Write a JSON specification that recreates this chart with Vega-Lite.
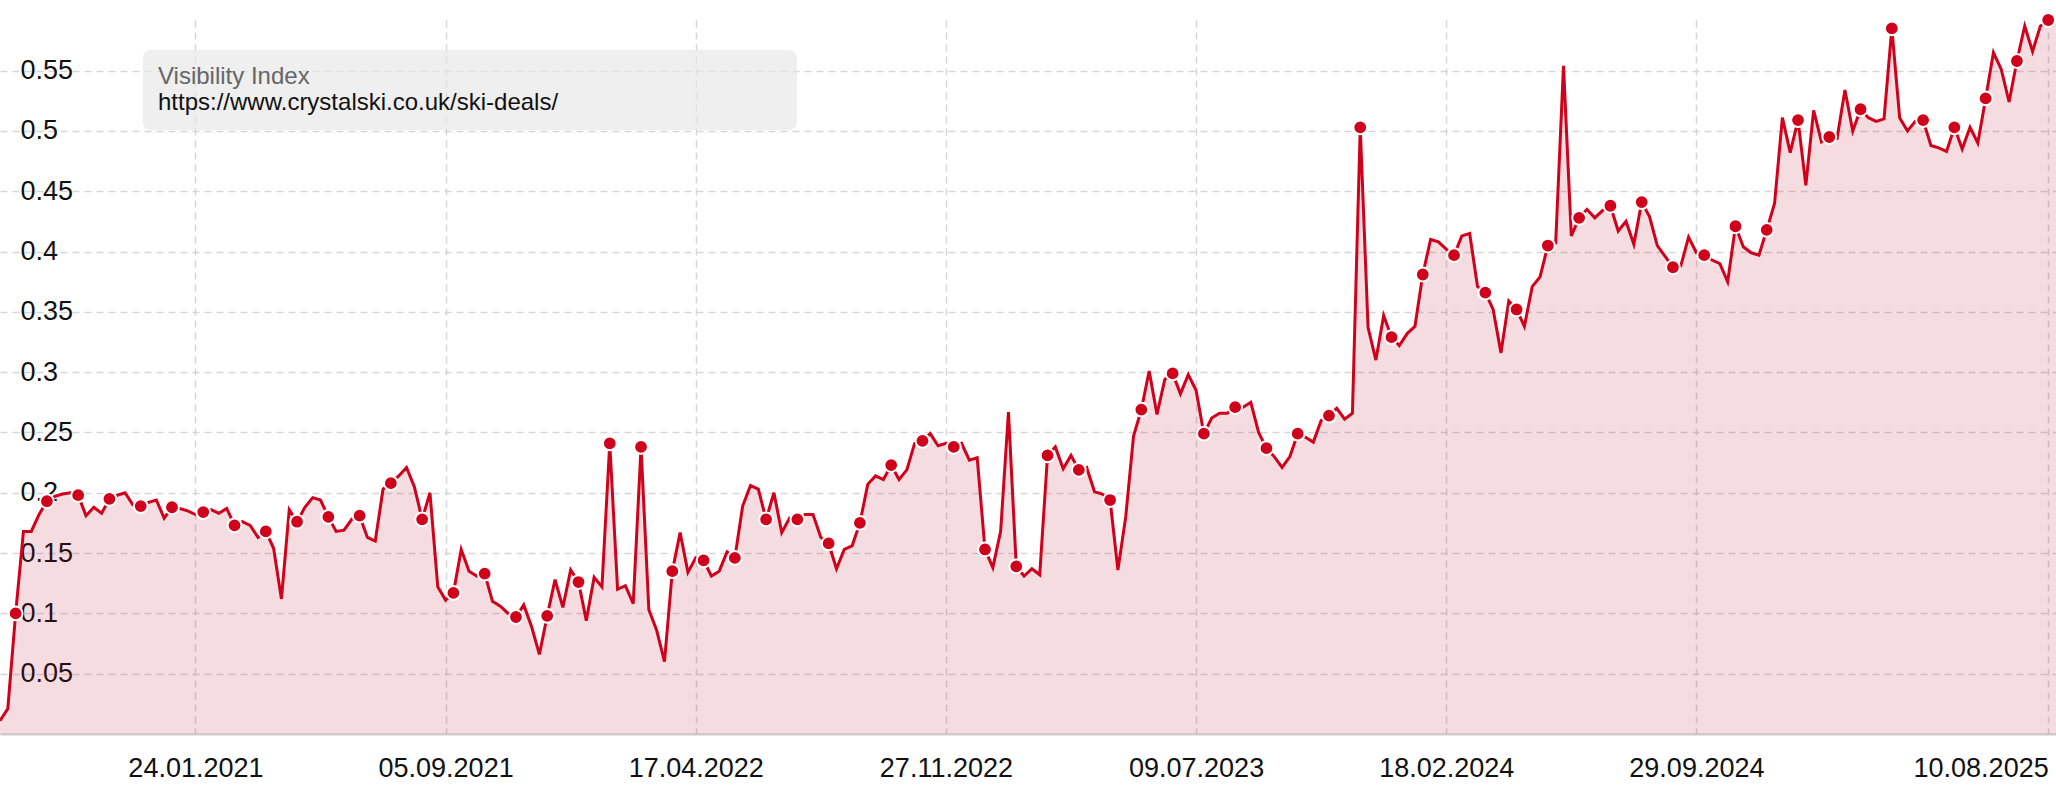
{
  "$schema": "https://vega.github.io/schema/vega-lite/v6.json",
  "width": 2056,
  "height": 714,
  "autosize": {"type": "none"},
  "padding": {"left": 0, "right": 0, "top": 20, "bottom": 66},
  "background": "white",
  "config": {
    "font": "Liberation Sans",
    "view": {"stroke": null},
    "legend": {
      "orient": "none",
      "legendX": 143,
      "legendY": 30,
      "fillColor": "rgba(230,230,230,0.65)",
      "cornerRadius": 8,
      "padding": 15,
      "titleFontSize": 24,
      "titleFontWeight": "normal",
      "titleColor": "#666666",
      "titleFont": "Liberation Sans",
      "titlePadding": 2,
      "labelFontSize": 24,
      "labelColor": "#111111",
      "labelFont": "Liberation Sans",
      "labelLimit": 0,
      "labelOffset": -636,
      "symbolOffset": 612,
      "symbolSize": 0,
      "symbolOpacity": 0,
      "symbolStrokeWidth": 0
    }
  },
  "data": {
    "values": [
      {"date":"2020-08-02","value":0.011,"dot":0},
      {"date":"2020-08-09","value":0.021,"dot":0},
      {"date":"2020-08-16","value":0.100,"dot":1},
      {"date":"2020-08-23","value":0.168,"dot":0},
      {"date":"2020-08-30","value":0.168,"dot":0},
      {"date":"2020-09-06","value":0.182,"dot":0},
      {"date":"2020-09-13","value":0.193,"dot":1},
      {"date":"2020-09-20","value":0.197,"dot":0},
      {"date":"2020-09-27","value":0.199,"dot":0},
      {"date":"2020-10-04","value":0.200,"dot":0},
      {"date":"2020-10-11","value":0.198,"dot":1},
      {"date":"2020-10-18","value":0.181,"dot":0},
      {"date":"2020-10-25","value":0.188,"dot":0},
      {"date":"2020-11-01","value":0.183,"dot":0},
      {"date":"2020-11-08","value":0.195,"dot":1},
      {"date":"2020-11-15","value":0.198,"dot":0},
      {"date":"2020-11-22","value":0.200,"dot":0},
      {"date":"2020-11-29","value":0.190,"dot":0},
      {"date":"2020-12-06","value":0.189,"dot":1},
      {"date":"2020-12-13","value":0.192,"dot":0},
      {"date":"2020-12-20","value":0.194,"dot":0},
      {"date":"2020-12-27","value":0.179,"dot":0},
      {"date":"2021-01-03","value":0.188,"dot":1},
      {"date":"2021-01-10","value":0.187,"dot":0},
      {"date":"2021-01-17","value":0.185,"dot":0},
      {"date":"2021-01-24","value":0.182,"dot":0},
      {"date":"2021-01-31","value":0.184,"dot":1},
      {"date":"2021-02-07","value":0.186,"dot":0},
      {"date":"2021-02-14","value":0.183,"dot":0},
      {"date":"2021-02-21","value":0.187,"dot":0},
      {"date":"2021-02-28","value":0.173,"dot":1},
      {"date":"2021-03-07","value":0.176,"dot":0},
      {"date":"2021-03-14","value":0.173,"dot":0},
      {"date":"2021-03-21","value":0.163,"dot":0},
      {"date":"2021-03-28","value":0.168,"dot":1},
      {"date":"2021-04-04","value":0.154,"dot":0},
      {"date":"2021-04-11","value":0.112,"dot":0},
      {"date":"2021-04-18","value":0.186,"dot":0},
      {"date":"2021-04-25","value":0.176,"dot":1},
      {"date":"2021-05-02","value":0.188,"dot":0},
      {"date":"2021-05-09","value":0.196,"dot":0},
      {"date":"2021-05-16","value":0.194,"dot":0},
      {"date":"2021-05-23","value":0.180,"dot":1},
      {"date":"2021-05-30","value":0.168,"dot":0},
      {"date":"2021-06-06","value":0.169,"dot":0},
      {"date":"2021-06-13","value":0.178,"dot":0},
      {"date":"2021-06-20","value":0.181,"dot":1},
      {"date":"2021-06-27","value":0.163,"dot":0},
      {"date":"2021-07-04","value":0.160,"dot":0},
      {"date":"2021-07-11","value":0.203,"dot":0},
      {"date":"2021-07-18","value":0.208,"dot":1},
      {"date":"2021-07-25","value":0.214,"dot":0},
      {"date":"2021-08-01","value":0.221,"dot":0},
      {"date":"2021-08-08","value":0.205,"dot":0},
      {"date":"2021-08-15","value":0.178,"dot":1},
      {"date":"2021-08-22","value":0.200,"dot":0},
      {"date":"2021-08-29","value":0.122,"dot":0},
      {"date":"2021-09-05","value":0.111,"dot":0},
      {"date":"2021-09-12","value":0.117,"dot":1},
      {"date":"2021-09-19","value":0.153,"dot":0},
      {"date":"2021-09-26","value":0.135,"dot":0},
      {"date":"2021-10-03","value":0.131,"dot":0},
      {"date":"2021-10-10","value":0.133,"dot":1},
      {"date":"2021-10-17","value":0.110,"dot":0},
      {"date":"2021-10-24","value":0.106,"dot":0},
      {"date":"2021-10-31","value":0.100,"dot":0},
      {"date":"2021-11-07","value":0.097,"dot":1},
      {"date":"2021-11-14","value":0.107,"dot":0},
      {"date":"2021-11-21","value":0.089,"dot":0},
      {"date":"2021-11-28","value":0.066,"dot":0},
      {"date":"2021-12-05","value":0.098,"dot":1},
      {"date":"2021-12-12","value":0.128,"dot":0},
      {"date":"2021-12-19","value":0.105,"dot":0},
      {"date":"2021-12-26","value":0.136,"dot":0},
      {"date":"2022-01-02","value":0.126,"dot":1},
      {"date":"2022-01-09","value":0.094,"dot":0},
      {"date":"2022-01-16","value":0.130,"dot":0},
      {"date":"2022-01-23","value":0.122,"dot":0},
      {"date":"2022-01-30","value":0.241,"dot":1},
      {"date":"2022-02-06","value":0.120,"dot":0},
      {"date":"2022-02-13","value":0.123,"dot":0},
      {"date":"2022-02-20","value":0.108,"dot":0},
      {"date":"2022-02-27","value":0.238,"dot":1},
      {"date":"2022-03-06","value":0.103,"dot":0},
      {"date":"2022-03-13","value":0.086,"dot":0},
      {"date":"2022-03-20","value":0.060,"dot":0},
      {"date":"2022-03-27","value":0.135,"dot":1},
      {"date":"2022-04-03","value":0.167,"dot":0},
      {"date":"2022-04-10","value":0.134,"dot":0},
      {"date":"2022-04-17","value":0.146,"dot":0},
      {"date":"2022-04-24","value":0.144,"dot":1},
      {"date":"2022-05-01","value":0.131,"dot":0},
      {"date":"2022-05-08","value":0.135,"dot":0},
      {"date":"2022-05-15","value":0.151,"dot":0},
      {"date":"2022-05-22","value":0.146,"dot":1},
      {"date":"2022-05-29","value":0.189,"dot":0},
      {"date":"2022-06-05","value":0.206,"dot":0},
      {"date":"2022-06-12","value":0.203,"dot":0},
      {"date":"2022-06-19","value":0.178,"dot":1},
      {"date":"2022-06-26","value":0.200,"dot":0},
      {"date":"2022-07-03","value":0.167,"dot":0},
      {"date":"2022-07-10","value":0.179,"dot":0},
      {"date":"2022-07-17","value":0.178,"dot":1},
      {"date":"2022-07-24","value":0.182,"dot":0},
      {"date":"2022-07-31","value":0.182,"dot":0},
      {"date":"2022-08-07","value":0.163,"dot":0},
      {"date":"2022-08-14","value":0.158,"dot":1},
      {"date":"2022-08-21","value":0.137,"dot":0},
      {"date":"2022-08-28","value":0.153,"dot":0},
      {"date":"2022-09-04","value":0.156,"dot":0},
      {"date":"2022-09-11","value":0.175,"dot":1},
      {"date":"2022-09-18","value":0.207,"dot":0},
      {"date":"2022-09-25","value":0.214,"dot":0},
      {"date":"2022-10-02","value":0.211,"dot":0},
      {"date":"2022-10-09","value":0.223,"dot":1},
      {"date":"2022-10-16","value":0.211,"dot":0},
      {"date":"2022-10-23","value":0.219,"dot":0},
      {"date":"2022-10-30","value":0.241,"dot":0},
      {"date":"2022-11-06","value":0.243,"dot":1},
      {"date":"2022-11-13","value":0.249,"dot":0},
      {"date":"2022-11-20","value":0.239,"dot":0},
      {"date":"2022-11-27","value":0.241,"dot":0},
      {"date":"2022-12-04","value":0.238,"dot":1},
      {"date":"2022-12-11","value":0.241,"dot":0},
      {"date":"2022-12-18","value":0.227,"dot":0},
      {"date":"2022-12-25","value":0.229,"dot":0},
      {"date":"2023-01-01","value":0.153,"dot":1},
      {"date":"2023-01-08","value":0.138,"dot":0},
      {"date":"2023-01-15","value":0.168,"dot":0},
      {"date":"2023-01-22","value":0.267,"dot":0},
      {"date":"2023-01-29","value":0.139,"dot":1},
      {"date":"2023-02-05","value":0.131,"dot":0},
      {"date":"2023-02-12","value":0.137,"dot":0},
      {"date":"2023-02-19","value":0.132,"dot":0},
      {"date":"2023-02-26","value":0.231,"dot":1},
      {"date":"2023-03-05","value":0.238,"dot":0},
      {"date":"2023-03-12","value":0.220,"dot":0},
      {"date":"2023-03-19","value":0.231,"dot":0},
      {"date":"2023-03-26","value":0.219,"dot":1},
      {"date":"2023-04-02","value":0.221,"dot":0},
      {"date":"2023-04-09","value":0.201,"dot":0},
      {"date":"2023-04-16","value":0.199,"dot":0},
      {"date":"2023-04-23","value":0.194,"dot":1},
      {"date":"2023-04-30","value":0.136,"dot":0},
      {"date":"2023-05-07","value":0.180,"dot":0},
      {"date":"2023-05-14","value":0.247,"dot":0},
      {"date":"2023-05-21","value":0.269,"dot":1},
      {"date":"2023-05-28","value":0.301,"dot":0},
      {"date":"2023-06-04","value":0.265,"dot":0},
      {"date":"2023-06-11","value":0.294,"dot":0},
      {"date":"2023-06-18","value":0.299,"dot":1},
      {"date":"2023-06-25","value":0.282,"dot":0},
      {"date":"2023-07-02","value":0.298,"dot":0},
      {"date":"2023-07-09","value":0.285,"dot":0},
      {"date":"2023-07-16","value":0.249,"dot":1},
      {"date":"2023-07-23","value":0.262,"dot":0},
      {"date":"2023-07-30","value":0.266,"dot":0},
      {"date":"2023-08-06","value":0.266,"dot":0},
      {"date":"2023-08-13","value":0.271,"dot":1},
      {"date":"2023-08-20","value":0.271,"dot":0},
      {"date":"2023-08-27","value":0.275,"dot":0},
      {"date":"2023-09-03","value":0.250,"dot":0},
      {"date":"2023-09-10","value":0.237,"dot":1},
      {"date":"2023-09-17","value":0.230,"dot":0},
      {"date":"2023-09-24","value":0.221,"dot":0},
      {"date":"2023-10-01","value":0.230,"dot":0},
      {"date":"2023-10-08","value":0.249,"dot":1},
      {"date":"2023-10-15","value":0.246,"dot":0},
      {"date":"2023-10-22","value":0.242,"dot":0},
      {"date":"2023-10-29","value":0.260,"dot":0},
      {"date":"2023-11-05","value":0.264,"dot":1},
      {"date":"2023-11-12","value":0.270,"dot":0},
      {"date":"2023-11-19","value":0.261,"dot":0},
      {"date":"2023-11-26","value":0.266,"dot":0},
      {"date":"2023-12-03","value":0.503,"dot":1},
      {"date":"2023-12-10","value":0.337,"dot":0},
      {"date":"2023-12-17","value":0.310,"dot":0},
      {"date":"2023-12-24","value":0.347,"dot":0},
      {"date":"2023-12-31","value":0.329,"dot":1},
      {"date":"2024-01-07","value":0.322,"dot":0},
      {"date":"2024-01-14","value":0.332,"dot":0},
      {"date":"2024-01-21","value":0.338,"dot":0},
      {"date":"2024-01-28","value":0.381,"dot":1},
      {"date":"2024-02-04","value":0.410,"dot":0},
      {"date":"2024-02-11","value":0.408,"dot":0},
      {"date":"2024-02-18","value":0.402,"dot":0},
      {"date":"2024-02-25","value":0.397,"dot":1},
      {"date":"2024-03-03","value":0.413,"dot":0},
      {"date":"2024-03-10","value":0.415,"dot":0},
      {"date":"2024-03-17","value":0.371,"dot":0},
      {"date":"2024-03-24","value":0.366,"dot":1},
      {"date":"2024-03-31","value":0.352,"dot":0},
      {"date":"2024-04-07","value":0.316,"dot":0},
      {"date":"2024-04-14","value":0.359,"dot":0},
      {"date":"2024-04-21","value":0.352,"dot":1},
      {"date":"2024-04-28","value":0.338,"dot":0},
      {"date":"2024-05-05","value":0.371,"dot":0},
      {"date":"2024-05-12","value":0.379,"dot":0},
      {"date":"2024-05-19","value":0.405,"dot":1},
      {"date":"2024-05-26","value":0.407,"dot":0},
      {"date":"2024-06-02","value":0.554,"dot":0},
      {"date":"2024-06-09","value":0.413,"dot":0},
      {"date":"2024-06-16","value":0.428,"dot":1},
      {"date":"2024-06-23","value":0.435,"dot":0},
      {"date":"2024-06-30","value":0.428,"dot":0},
      {"date":"2024-07-07","value":0.434,"dot":0},
      {"date":"2024-07-14","value":0.438,"dot":1},
      {"date":"2024-07-21","value":0.417,"dot":0},
      {"date":"2024-07-28","value":0.425,"dot":0},
      {"date":"2024-08-04","value":0.406,"dot":0},
      {"date":"2024-08-11","value":0.441,"dot":1},
      {"date":"2024-08-18","value":0.429,"dot":0},
      {"date":"2024-08-25","value":0.405,"dot":0},
      {"date":"2024-09-01","value":0.396,"dot":0},
      {"date":"2024-09-08","value":0.387,"dot":1},
      {"date":"2024-09-15","value":0.388,"dot":0},
      {"date":"2024-09-22","value":0.412,"dot":0},
      {"date":"2024-09-29","value":0.399,"dot":0},
      {"date":"2024-10-06","value":0.397,"dot":1},
      {"date":"2024-10-13","value":0.393,"dot":0},
      {"date":"2024-10-20","value":0.390,"dot":0},
      {"date":"2024-10-27","value":0.375,"dot":0},
      {"date":"2024-11-03","value":0.421,"dot":1},
      {"date":"2024-11-10","value":0.404,"dot":0},
      {"date":"2024-11-17","value":0.399,"dot":0},
      {"date":"2024-11-24","value":0.397,"dot":0},
      {"date":"2024-12-01","value":0.418,"dot":1},
      {"date":"2024-12-08","value":0.440,"dot":0},
      {"date":"2024-12-15","value":0.511,"dot":0},
      {"date":"2024-12-22","value":0.482,"dot":0},
      {"date":"2024-12-29","value":0.509,"dot":1},
      {"date":"2025-01-05","value":0.455,"dot":0},
      {"date":"2025-01-12","value":0.517,"dot":0},
      {"date":"2025-01-19","value":0.491,"dot":0},
      {"date":"2025-01-26","value":0.495,"dot":1},
      {"date":"2025-02-02","value":0.494,"dot":0},
      {"date":"2025-02-09","value":0.534,"dot":0},
      {"date":"2025-02-16","value":0.500,"dot":0},
      {"date":"2025-02-23","value":0.518,"dot":1},
      {"date":"2025-03-02","value":0.511,"dot":0},
      {"date":"2025-03-09","value":0.508,"dot":0},
      {"date":"2025-03-16","value":0.510,"dot":0},
      {"date":"2025-03-23","value":0.585,"dot":1},
      {"date":"2025-03-30","value":0.511,"dot":0},
      {"date":"2025-04-06","value":0.500,"dot":0},
      {"date":"2025-04-13","value":0.508,"dot":0},
      {"date":"2025-04-20","value":0.509,"dot":1},
      {"date":"2025-04-27","value":0.488,"dot":0},
      {"date":"2025-05-04","value":0.486,"dot":0},
      {"date":"2025-05-11","value":0.483,"dot":0},
      {"date":"2025-05-18","value":0.503,"dot":1},
      {"date":"2025-05-25","value":0.485,"dot":0},
      {"date":"2025-06-01","value":0.503,"dot":0},
      {"date":"2025-06-08","value":0.490,"dot":0},
      {"date":"2025-06-15","value":0.527,"dot":1},
      {"date":"2025-06-22","value":0.565,"dot":0},
      {"date":"2025-06-29","value":0.551,"dot":0},
      {"date":"2025-07-06","value":0.524,"dot":0},
      {"date":"2025-07-13","value":0.558,"dot":1},
      {"date":"2025-07-20","value":0.587,"dot":0},
      {"date":"2025-07-27","value":0.566,"dot":0},
      {"date":"2025-08-03","value":0.587,"dot":0},
      {"date":"2025-08-10","value":0.592,"dot":1},
      {"date":"2025-08-17","value":0.592,"dot":0}
    ],
    "format": {"parse": {"date": "utc:'%Y-%m-%d'"}}
  },
  "encoding": {
    "x": {
      "field": "date",
      "type": "temporal",
      "scale": {"type": "utc", "nice": false},
      "axis": {
        "title": null,
        "values": [
          {"year": 2021, "month": 1, "date": 24, "utc": true},
          {"year": 2021, "month": 9, "date": 5, "utc": true},
          {"year": 2022, "month": 4, "date": 17, "utc": true},
          {"year": 2022, "month": 11, "date": 27, "utc": true},
          {"year": 2023, "month": 7, "date": 9, "utc": true},
          {"year": 2024, "month": 2, "date": 18, "utc": true},
          {"year": 2024, "month": 9, "date": 29, "utc": true},
          {"year": 2025, "month": 8, "date": 10, "utc": true}
        ],
        "labelExpr": "utcFormat(datum.value, '%d.%m.%Y')",
        "ticks": false,
        "tickSize": 0,
        "labelPadding": 21,
        "labelFontSize": 27,
        "labelColor": "#111111",
        "labelFont": "Liberation Sans",
        "labelFlush": 15,
        "labelOverlap": false,
        "domain": true,
        "domainColor": "#cccccc",
        "domainWidth": 2,
        "grid": true,
        "gridDash": [7, 5],
        "gridColor": "#d6d6d6",
        "gridWidth": 1.5
      }
    },
    "y": {
      "field": "value",
      "type": "quantitative",
      "scale": {"zero": true, "nice": false},
      "axis": {
        "title": null,
        "values": [0.05, 0.1, 0.15, 0.2, 0.25, 0.3, 0.35, 0.4, 0.45, 0.5, 0.55],
        "format": ".2~f",
        "ticks": false,
        "tickSize": 0,
        "domain": false,
        "labelAlign": "left",
        "labelPadding": -20,
        "labelFontSize": 27,
        "labelColor": "#111111",
        "labelFont": "Liberation Sans",
        "grid": true,
        "gridDash": [7, 5],
        "gridColor": "#d6d6d6",
        "gridWidth": 1.5
      }
    }
  },
  "layer": [
    {
      "mark": {"type": "area", "fill": "#b0102a", "fillOpacity": 0.145, "line": false}
    },
    {
      "mark": {"type": "line", "strokeWidth": 3},
      "encoding": {
        "color": {
          "datum": "https://www.crystalski.co.uk/ski-deals/",
          "scale": {"range": ["#d0021b"]},
          "legend": {"title": "Visibility Index"}
        }
      }
    },
    {
      "transform": [{"filter": "datum.dot == 1"}],
      "mark": {"type": "point", "shape": "circle", "filled": true, "fill": "#d0021b", "stroke": "white", "strokeWidth": 2, "size": 190, "opacity": 1}
    }
  ]
}
